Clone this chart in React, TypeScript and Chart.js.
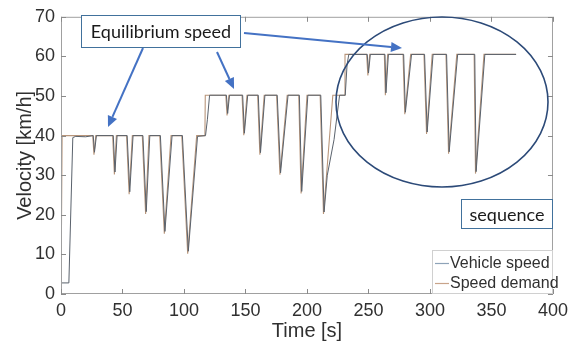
import React, { useEffect, useRef } from "react";
import { Chart, registerables } from "chart.js";

Chart.register(...registerables);

// Speed demand breakpoints (time [s], velocity [km/h])
const demandTime = [
  0, 0.8, 0.9,
  25.8, 26.8, 28.3, 42, 43.4, 45, 53.3, 55.4, 58, 66.1, 68.8, 71.5, 80.3, 84, 89.5, 98.2, 103, 110.3,
  117, 117.3,
  134, 135, 136.5, 147.2, 148.6, 151.2, 159.9, 161.7, 165.2, 175.3, 178, 183.9, 193.3, 195.2, 200, 210.7, 213.4, 221,
  230.6, 230.9,
  248.5, 249.5, 251, 262.9, 263.7, 265.6, 278.1, 279.5, 284.3, 295.1, 297.2, 301.8, 313, 315.1, 321.8, 335.9, 337, 343.9,
  370,
];
const demandSpeed = [
  0, 0, 40,
  40, 35.2, 40, 40, 30.2, 40, 40, 25.2, 40, 40, 20.2, 40, 40, 15.2, 40, 40, 10.2, 40,
  40, 50.2,
  50.2, 45.1, 50.2, 50.2, 40.1, 50.2, 50.2, 35.2, 50.2, 50.2, 30.1, 50.2, 50.2, 25.4, 50.2, 50.2, 20.2, 50.2,
  50.2, 60.5,
  60.5, 55.2, 60.5, 60.5, 50.2, 60.5, 60.5, 45.4, 60.5, 60.5, 40.4, 60.5, 60.5, 35.4, 60.5, 60.5, 30.4, 60.5,
  60.5,
];

// Vehicle speed breakpoints (time [s], velocity [km/h])
const vehicleTime = [
  0, 6.4, 9.6, 12, 20,
  26.2, 27.2, 28.8, 42.5, 43.9, 45.6, 53.8, 55.9, 58.6, 66.6, 69.3, 72.2, 80.8, 84.5, 90.3, 98.7, 103.5, 111,
  117.5, 119, 120.8,
  134.5, 135.5, 137, 147.7, 149.1, 151.8, 160.4, 162.2, 165.8, 175.8, 178.5, 184.6, 193.8, 195.7, 200.7,
  211.2, 213.9, 216.5, 222, 226.5,
  231.1, 232.6, 234,
  249, 250, 251.5, 263.4, 264.2, 266.2, 278.6, 280, 285, 295.6, 297.7, 302.5, 313.5, 315.6, 322.5, 336.4, 337.5, 344.6,
  370,
];
const vehicleSpeed = [
  2.8, 2.8, 39.5, 39.8, 39.7,
  40, 35.8, 40, 40, 30.8, 40, 40, 25.8, 40, 40, 20.8, 40, 40, 15.8, 40, 40, 10.8, 39.8,
  40, 44, 50.2,
  50.2, 45.6, 50.2, 50.2, 40.6, 50.2, 50.2, 35.7, 50.2, 50.2, 30.6, 50.2, 50.2, 25.9, 50.2,
  50.2, 20.7, 30, 39, 50.2,
  50.2, 58, 60.5,
  60.5, 55.8, 60.5, 60.5, 50.8, 60.5, 60.5, 45.9, 60.5, 60.5, 40.9, 60.5, 60.5, 35.9, 60.5, 60.5, 30.9, 60.5,
  60.5,
];

const seriesLabels = ["Vehicle speed", "Speed demand"];
const xTitle = "Time [s]";
const yTitle = "Velocity [km/h]";
const noteMain = "Equilibrium speed";
const noteSeq = "sequence";

const VEH_COLOR = "#5a626c";
const DEM_COLOR = "#b8957a";
const VEH_LEGEND = "#8ea3b8";
const DEM_LEGEND = "#c8a48a";
const ARROW_COLOR = "#4472c4";
const BOX_COLOR = "#41719c";
const AXIS_COLOR = "#a0a0a0";
const TEXT_COLOR = "#303030";

function arrow(ctx: CanvasRenderingContext2D, x1: number, y1: number, x2: number, y2: number) {
  const ang = Math.atan2(y2 - y1, x2 - x1);
  const hl = 11;
  const hw = 5;
  const bx = x2 - hl * Math.cos(ang);
  const by = y2 - hl * Math.sin(ang);
  ctx.save();
  ctx.strokeStyle = ARROW_COLOR;
  ctx.fillStyle = ARROW_COLOR;
  ctx.lineWidth = 2;
  ctx.beginPath();
  ctx.moveTo(x1, y1);
  ctx.lineTo(bx, by);
  ctx.stroke();
  ctx.beginPath();
  ctx.moveTo(x2, y2);
  ctx.lineTo(bx + hw * Math.sin(ang), by - hw * Math.cos(ang));
  ctx.lineTo(bx - hw * Math.sin(ang), by + hw * Math.cos(ang));
  ctx.closePath();
  ctx.fill();
  ctx.restore();
}

const decorPlugin = {
  id: "decor",
  afterDatasetsDraw(chart: any) {
    const { ctx, chartArea: a, scales } = chart;
    const xs = scales.x;
    const ys = scales.y;
    ctx.save();
    // axes box
    ctx.strokeStyle = AXIS_COLOR;
    ctx.lineWidth = 1;
    ctx.strokeRect(a.left + 0.5, a.top + 0.5, a.right - a.left - 1, a.bottom - a.top - 1);
    // inward ticks
    ctx.strokeStyle = "#8a8a8a";
    ctx.beginPath();
    xs.ticks.forEach((t: any) => {
      const px = Math.round(xs.getPixelForValue(t.value)) + 0.5;
      ctx.moveTo(px, a.bottom);
      ctx.lineTo(px, a.bottom - 5);
      ctx.moveTo(px, a.top);
      ctx.lineTo(px, a.top + 5);
    });
    ys.ticks.forEach((t: any) => {
      const py = Math.round(ys.getPixelForValue(t.value)) + 0.5;
      ctx.moveTo(a.left, py);
      ctx.lineTo(a.left + 5, py);
      ctx.moveTo(a.right, py);
      ctx.lineTo(a.right - 5, py);
    });
    ctx.stroke();

    // legend
    const lx = 432, ly = 250, lw = a.right - 432, lh = a.bottom - 250;
    ctx.fillStyle = "#ffffff";
    ctx.fillRect(lx, ly, lw, lh);
    ctx.strokeStyle = "#d0d0d0";
    ctx.strokeRect(lx + 0.5, ly + 0.5, lw - 1, lh - 1);
    const rows = [
      { label: seriesLabels[0], color: VEH_LEGEND, y: 263.5 },
      { label: seriesLabels[1], color: DEM_LEGEND, y: 283.5 },
    ];
    ctx.font = "16px 'Liberation Sans', Arial, sans-serif";
    ctx.textBaseline = "middle";
    ctx.textAlign = "left";
    rows.forEach((r) => {
      ctx.strokeStyle = r.color;
      ctx.lineWidth = 1.2;
      ctx.beginPath();
      ctx.moveTo(435, r.y);
      ctx.lineTo(449, r.y);
      ctx.stroke();
      ctx.fillStyle = TEXT_COLOR;
      ctx.fillText(r.label, 450, r.y);
    });

    // ellipse
    ctx.strokeStyle = "#2c4a78";
    ctx.lineWidth = 1.6;
    ctx.beginPath();
    ctx.ellipse(442, 102, 106, 85, 0, 0, Math.PI * 2);
    ctx.stroke();

    // arrows
    arrow(ctx, 143, 48, 108, 127);
    arrow(ctx, 217, 52, 234, 89);
    arrow(ctx, 244, 33, 402, 48);

    // note boxes
    const drawBox = (x: number, y: number, w: number, h: number, text: string) => {
      ctx.fillStyle = "#ffffff";
      ctx.fillRect(x, y, w, h);
      ctx.strokeStyle = BOX_COLOR;
      ctx.lineWidth = 1;
      ctx.strokeRect(x + 0.5, y + 0.5, w - 1, h - 1);
      ctx.fillStyle = "#1a1a1a";
      ctx.font = "18px Lato, 'Open Sans', sans-serif";
      ctx.textAlign = "center";
      ctx.textBaseline = "middle";
      ctx.fillText(text, x + w / 2, y + h / 2 + 1);
    };
    drawBox(81, 15, 160, 33, noteMain);
    drawBox(461, 199, 92, 30, noteSeq);
    ctx.restore();
  },
};

export default function App() {
  const ref = useRef<HTMLCanvasElement>(null);
  useEffect(() => {
    document.body.style.margin = "0";
    const canvas = ref.current!;
    const demand = demandTime.map((t, i) => ({ x: t, y: demandSpeed[i] }));
    const vehicle = vehicleTime.map((t, i) => ({ x: t, y: vehicleSpeed[i] }));
    const chart = new Chart(canvas, {
      type: "line",
      data: {
        datasets: [
          {
            label: seriesLabels[1],
            data: demand,
            borderColor: DEM_COLOR,
            borderWidth: 1.1,
            pointRadius: 0,
            tension: 0,
            order: 2,
          },
          {
            label: seriesLabels[0],
            data: vehicle,
            borderColor: VEH_COLOR,
            borderWidth: 1,
            pointRadius: 0,
            tension: 0,
            order: 1,
          },
        ],
      },
      options: {
        responsive: false,
        animation: false,
        devicePixelRatio: 1,
        layout: { padding: { top: 14, right: 14, left: 0, bottom: 0 } },
        plugins: { legend: { display: false }, tooltip: { enabled: false } },
        scales: {
          x: {
            type: "linear",
            min: 0,
            max: 400,
            ticks: {
              stepSize: 50,
              color: TEXT_COLOR,
              padding: 6,
              maxRotation: 0,
              font: { family: "'Liberation Sans', Arial, sans-serif", size: 18 },
            },
            grid: { display: false, drawTicks: false },
            border: { display: false },
            title: {
              display: true,
              text: xTitle,
              color: TEXT_COLOR,
              padding: { top: 0, bottom: 2 },
              font: { family: "'Liberation Sans', Arial, sans-serif", size: 20 },
            },
            afterFit: (s: any) => {
              s.height = 51;
            },
          },
          y: {
            type: "linear",
            min: 0,
            max: 70,
            ticks: {
              stepSize: 10,
              color: TEXT_COLOR,
              padding: 6,
              font: { family: "'Liberation Sans', Arial, sans-serif", size: 18 },
            },
            grid: { display: false, drawTicks: false },
            border: { display: false },
            title: {
              display: true,
              text: yTitle,
              color: TEXT_COLOR,
              padding: { top: 13, bottom: 0 },
              font: { family: "'Liberation Sans', Arial, sans-serif", size: 20 },
            },
            afterFit: (s: any) => {
              s.width = 61;
            },
          },
        },
      },
      plugins: [decorPlugin],
    });
    return () => chart.destroy();
  }, []);
  return (
    <div style={{ position: "fixed", left: 0, top: 0, width: 574, height: 345, background: "#fff" }}>
      <canvas ref={ref} width={574} height={345} style={{ width: 574, height: 345 }} />
    </div>
  );
}
